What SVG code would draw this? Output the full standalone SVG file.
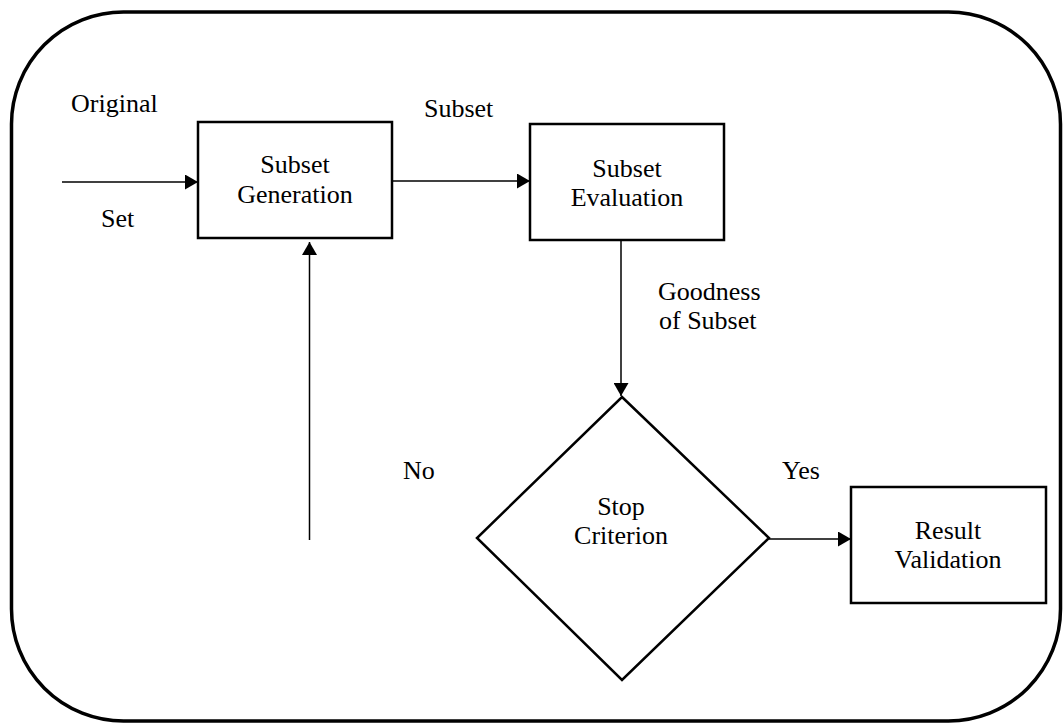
<svg xmlns="http://www.w3.org/2000/svg" width="1063" height="725" viewBox="0 0 1063 725">
  <style>
    .t { font-family: 'Liberation Serif', 'DejaVu Serif', 'Noto Serif', serif; font-size: 26px; fill: #000; }
    .c { text-anchor: middle; }
    .box { fill: #fff; stroke: #000; stroke-width: 2.5; }
    .line { stroke: #000; stroke-width: 1.5; fill: none; }
  </style>
  <defs>
    <marker id="arr" viewBox="0 0 13 15" refX="13" refY="7.5" markerWidth="13" markerHeight="15" markerUnits="userSpaceOnUse" orient="auto">
      <path d="M0,0 L13,7.5 L0,15 Z" fill="#000"/>
    </marker>
  </defs>
  <rect width="1063" height="725" fill="#fff"/>
  <rect id="frame" x="11.5" y="12" width="1049" height="709" rx="112" ry="112" fill="none" stroke="#000" stroke-width="3.5"/>

  <g id="connectors">
    <line class="line" x1="62" y1="182" x2="198" y2="182" marker-end="url(#arr)"/>
    <line class="line" x1="392" y1="181" x2="530" y2="181" marker-end="url(#arr)"/>
    <line class="line" x1="621" y1="240" x2="621" y2="396" marker-end="url(#arr)"/>
    <line class="line" x1="769" y1="539" x2="851" y2="539" marker-end="url(#arr)"/>
    <line class="line" x1="309.5" y1="540" x2="309.5" y2="242" marker-end="url(#arr)"/>
  </g>

  <g id="labels" class="t" font-family="Liberation Serif, DejaVu Serif, serif">
    <text x="71" y="112">Original</text>
    <text x="101" y="227">Set</text>
    <text x="424" y="117">Subset</text>
    <text x="658" y="300">Goodness</text>
    <text x="659" y="329">of Subset</text>
    <text x="403" y="479">No</text>
    <text x="782" y="479">Yes</text>
  </g>

  <g id="subset-generation">
    <rect class="box" x="198" y="122" width="194" height="116"/>
    <g class="t c" font-family="Liberation Serif, DejaVu Serif, serif">
      <text x="295" y="173">Subset</text>
      <text x="295" y="203">Generation</text>
    </g>
  </g>

  <g id="subset-evaluation">
    <rect class="box" x="530" y="124" width="194" height="116"/>
    <g class="t c" font-family="Liberation Serif, DejaVu Serif, serif">
      <text x="627" y="177">Subset</text>
      <text x="627" y="206">Evaluation</text>
    </g>
  </g>

  <g id="stop-criterion">
    <polygon class="box" points="622,397 769,538 622,680 477,538"/>
    <g class="t c" font-family="Liberation Serif, DejaVu Serif, serif">
      <text x="621" y="515">Stop</text>
      <text x="621" y="544">Criterion</text>
    </g>
  </g>

  <g id="result-validation">
    <rect class="box" x="851" y="487" width="195" height="116"/>
    <g class="t c" font-family="Liberation Serif, DejaVu Serif, serif">
      <text x="948" y="539">Result</text>
      <text x="948" y="568">Validation</text>
    </g>
  </g>
</svg>
